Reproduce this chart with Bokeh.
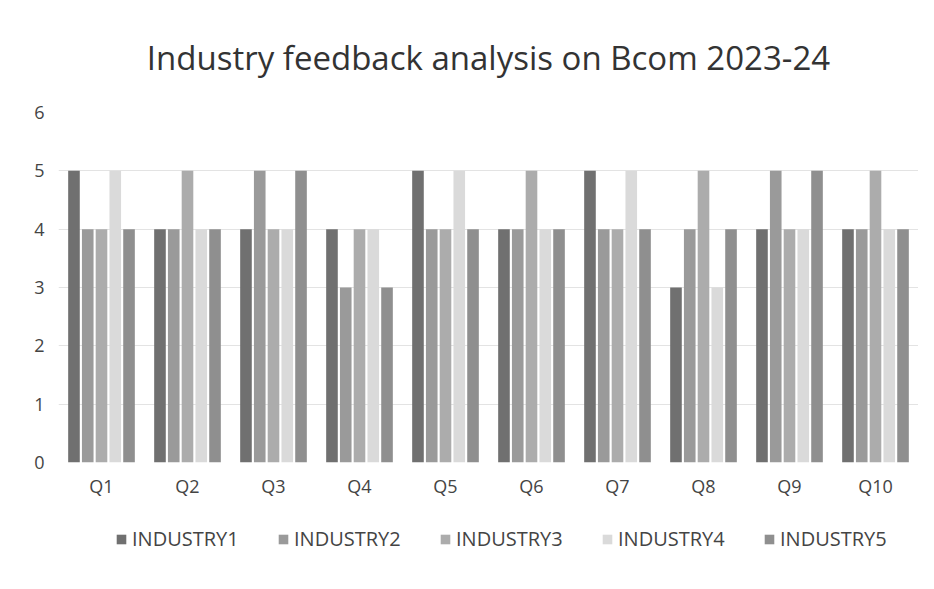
from bokeh.plotting import figure
from bokeh.models import FactorRange, Legend, LegendItem, ColumnDataSource
from bokeh.layouts import column
from bokeh.transform import dodge
from bokeh.embed import file_html
from bokeh.resources import INLINE

questions = ["Q1", "Q2", "Q3", "Q4", "Q5", "Q6", "Q7", "Q8", "Q9", "Q10"]
industry1 = [5, 4, 4, 4, 5, 4, 5, 3, 4, 4]
industry2 = [4, 4, 5, 3, 4, 4, 4, 4, 5, 4]
industry3 = [4, 5, 4, 4, 4, 5, 4, 5, 4, 5]
industry4 = [5, 4, 4, 4, 5, 4, 5, 3, 4, 4]
industry5 = [4, 4, 5, 3, 4, 4, 4, 4, 5, 4]
series_names = ["INDUSTRY1", "INDUSTRY2", "INDUSTRY3", "INDUSTRY4", "INDUSTRY5"]
colors = ["#707070", "#9a9a9a", "#acacac", "#dadada", "#8f8f8f"]
y_ticks = [0, 1, 2, 3, 4, 5, 6]

data = dict(q=questions, i1=industry1, i2=industry2, i3=industry3, i4=industry4, i5=industry5)
src = ColumnDataSource(data)

p = figure(x_range=FactorRange(*questions), y_range=(0, 6), width=918, height=500,
           output_backend="svg", toolbar_location=None,
           title="Industry feedback analysis on Bcom 2023-24")
p.title.align = "center"
p.title.text_font = "Open Sans"
p.title.text_font_size = "33px"
p.title.text_font_style = "normal"
p.title.text_color = "#333333"
p.title.standoff = 65

bw = 0.135
step = 0.16
keys = ["i1", "i2", "i3", "i4", "i5"]
for j, (k, c) in enumerate(zip(keys, colors)):
    p.vbar(x=dodge("q", (j - 2) * step, range=p.x_range), top=k, width=bw, source=src,
           fill_color=c, line_color=None)

p.xgrid.grid_line_color = None
p.ygrid.grid_line_color = "#e3e3e3"
p.yaxis.ticker = y_ticks
p.axis.axis_line_color = None
p.axis.major_tick_line_color = None
p.axis.minor_tick_line_color = None
p.axis.major_label_text_font = "Open Sans"
p.axis.major_label_text_font_size = "18px"
p.axis.major_label_text_color = "#444444"
p.xaxis.major_label_standoff = 5
p.yaxis.major_label_standoff = 8
p.x_range.range_padding = 0
p.outline_line_color = None
p.min_border_left = 58
p.min_border_right = 0
p.min_border_top = 105
p.min_border_bottom = 36

# legend strip below the chart (bars drawn from the same data but outside the visible y range)
lp = figure(width=918, height=60, x_range=FactorRange(*questions), y_range=(10, 11),
            output_backend="svg", toolbar_location=None)
lp.axis.visible = False
lp.grid.grid_line_color = None
lp.outline_line_color = None
lp.min_border = 0
items = []
for k, n, c in zip(keys, series_names, colors):
    r = lp.vbar(x="q", top=k, width=0.1, source=src, fill_color=c, line_color=None)
    items.append(LegendItem(label=n, renderers=[r]))
legend = Legend(items=items, orientation="horizontal", location=(57, 8),
                label_text_font="Open Sans", label_text_font_size="20px",
                label_text_color="#444444", glyph_width=12, glyph_height=12,
                label_width=113, label_standoff=5, spacing=32,
                border_line_color=None, background_fill_alpha=0)
lp.add_layout(legend, "center")

open("out.html", "w").write(file_html(column(p, lp, spacing=0), INLINE))
